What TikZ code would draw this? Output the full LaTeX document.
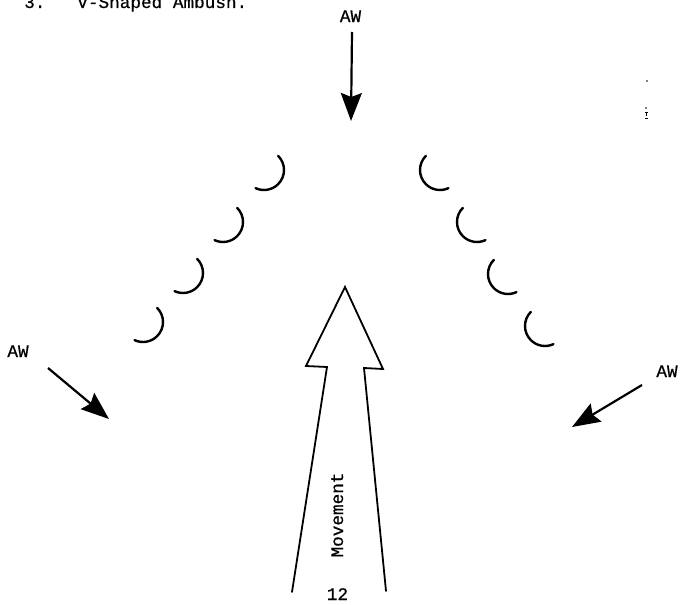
\documentclass[tikz,border=0pt]{standalone}
\usepackage{fontspec}
\newfontfamily\twfont[FakeBold=0.6]{Liberation Mono}
\usetikzlibrary{arrows.meta}
\begin{document}
\begin{tikzpicture}[x=1pt,y=1pt,
  tw/.style={font=\twfont\fontsize{17.7}{20}\selectfont, inner sep=0pt},
  awarrow/.style={line width=2.2pt, -{Stealth[length=28pt,width=21pt,inset=4pt]}},
  crescent/.style={line width=2.4pt, line cap=round},
  bigarrow/.style={line width=1.8pt, line join=miter, line cap=round}]
\useasboundingbox (0,0) rectangle (683,-605);
\clip (0,0) rectangle (683,-605);
% title
\node[tw, anchor=base west] (title) at (24,-8) {3.\ \ \ V-Shaped Ambush.};
% AW labels
\node[tw, anchor=base] (awtop) at (350.5,-22) {AW};
\node[tw, anchor=base] (awleft) at (18,-357) {AW};
\node[tw, anchor=base] (awright) at (667,-377) {AW};
% AW arrows
\coordinate (ta) at (352,-32);  \coordinate (tb) at (351,-121);
\coordinate (la) at (48,-368);  \coordinate (lb) at (109,-419);
\coordinate (ra) at (642,-385); \coordinate (rb) at (572,-427);
\draw[awarrow] (ta) -- (tb);
\draw[awarrow] (la) -- (lb);
\draw[awarrow] (ra) -- (rb);
% left crescents
\coordinate (cl1) at (264,-170);
\coordinate (cl2) at (223,-222);
\coordinate (cl3) at (183,-273);
\coordinate (cl4) at (143,-322);
\foreach \c in {cl1,cl2,cl3,cl4}
  \draw[crescent] ([shift={(45:20)}]\c) arc[start angle=45, end angle=-115, radius=20];
% right crescents
\coordinate (cr1) at (440,-170);
\coordinate (cr2) at (477,-222);
\coordinate (cr3) at (508,-274);
\coordinate (cr4) at (545,-326);
\foreach \c in {cr1,cr2,cr3,cr4}
  \draw[crescent] ([shift={(135:20)}]\c) arc[start angle=135, end angle=295, radius=20];
% big movement arrow
\coordinate (bl0) at (292,-592);
\coordinate (bl1) at (327,-367);
\coordinate (bl2) at (306,-366);
\coordinate (btip) at (345,-287);
\coordinate (br2) at (383,-369);
\coordinate (br1) at (364,-368);
\coordinate (br0) at (386,-591);
\draw[bigarrow] (bl0) -- (bl1) -- (bl2) -- (btip) -- (br2) -- (br1) -- (br0);
\node[tw, anchor=base, rotate=90] (mov) at (343,-515) {Movement};
\node[tw, anchor=base] (page) at (337.5,-600) {12};
% scan specks at right edge
\fill (647,-81) circle[radius=0.9];
\fill (646,-108) circle[radius=0.9];
\draw[line width=0.9pt] (644.5,-112) -- (647.5,-112) (646,-112) -- (646,-116) (644.5,-118) -- (647.5,-118);
\end{tikzpicture}
\end{document}
